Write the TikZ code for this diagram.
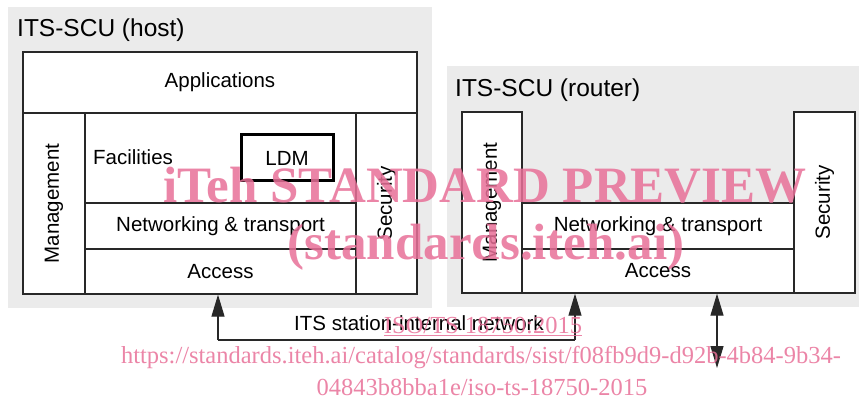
\documentclass[tikz,border=0pt]{standalone}
\usepackage{fontspec}
\setmainfont{Liberation Sans}
\newfontfamily\wmfont{Liberation Serif}
\usetikzlibrary{arrows.meta}
\definecolor{panelgray}{RGB}{235,235,235}
\definecolor{linegray}{RGB}{40,40,40}
\definecolor{wmpink}{RGB}{232,112,152}
\tikzset{
  panel/.style={fill=panelgray, draw=none},
  cell/.style={draw=linegray, line width=1.3pt, fill=white, inner sep=0pt, font=\fontsize{20.5}{22}\selectfont},
  vcell/.style={cell, rotate=90},
  title/.style={anchor=west, inner sep=0pt, font=\fontsize{24.5}{26}\selectfont},
  label/.style={inner sep=0pt, font=\fontsize{20.5}{22}\selectfont},
  link/.style={draw=linegray, line width=1.2pt},
  headed/.style={-{Triangle[width=13pt,length=22pt]}},
  wm/.style={text=wmpink, opacity=0.85, inner sep=0pt, anchor=base},
}
\begin{document}
\begin{tikzpicture}[x=1pt,y=-1pt]
\useasboundingbox (0,0) rectangle (859,403);

% background panels of the two stations
\fill[panel] (8,7) rectangle (432,308);
\fill[panel] (447,66) rectangle (859,307);

\node[title] (thost) at (17,30) {ITS-SCU (host)};
\node[title] (trouter) at (455,90) {ITS-SCU (router)};

% host protocol stack
\node[cell, minimum width=394pt, minimum height=61pt] (apps) at (220,82.5) {Applications};
\node[vcell, minimum width=181pt, minimum height=62pt] (hmgmt) at (54,203.5) {Management};
\node[vcell, minimum width=181pt, minimum height=61pt] (hsec) at (386.5,203.5) {Security};
\node[cell, minimum width=271pt, minimum height=90pt] (hfac) at (220.5,158) {};
\node[cell, minimum width=271pt, minimum height=46pt] (hnet) at (220.5,226) {Networking \& transport};
\node[cell, minimum width=271pt, minimum height=45pt] (hacc) at (220.5,271.5) {Access};
\node[label, anchor=west] (faclbl) at (93,157) {Facilities};
\node[cell, line width=3pt, draw=black, minimum width=92pt, minimum height=46pt] (ldm) at (287,158) {LDM};

% router protocol stack
\node[vcell, minimum width=181pt, minimum height=60pt] (rmgmt) at (492,202.5) {Management};
\node[vcell, minimum width=181pt, minimum height=61pt] (rsec) at (824.5,202.5) {Security};
\node[cell, minimum width=272pt, minimum height=46pt] (rnet) at (658,226) {Networking \& transport};
\node[cell, minimum width=272pt, minimum height=44pt] (racc) at (658,271) {Access};

% station-internal network and external link
\coordinate (nl) at (218,340);
\coordinate (nr) at (575,340);
\coordinate (ext) at (717,368);
\coordinate (hup) at (nl |- hacc.south);
\coordinate (rup) at (nr |- racc.south);
\coordinate (xup) at (ext |- racc.south);
\draw[link] (nl) -- (nr);
\draw[link, headed] (nl) -- (hup);
\draw[link, headed] (nr) -- (rup);
\draw[link, {Triangle[width=13pt,length=22pt]}-{Triangle[width=13pt,length=22pt]}] (xup) -- (ext);
\node[label] (netlbl) at (419,323) {ITS station-internal network};

% overlay text
\node[wm, font=\wmfont\bfseries\fontsize{51}{51}\selectfont] (wm1) at (485,203) {iTeh STANDARD PREVIEW};
\node[wm, font=\wmfont\bfseries\fontsize{51}{51}\selectfont] (wm2) at (486,260) {(standards.iteh.ai)};
\node[wm, font=\wmfont\fontsize{24.5}{25}\selectfont] (wm3) at (483,333) {\underline{ISO/TS 18750:2015}};
\node[wm, font=\wmfont\fontsize{24.5}{25}\selectfont] (wm4) at (481,363) {https://standards.iteh.ai/catalog/standards/sist/f08fb9d9-d92b-4b84-9b34-};
\node[wm, font=\wmfont\fontsize{24.5}{25}\selectfont] (wm5) at (482,395) {04843b8bba1e/iso-ts-18750-2015};
\end{tikzpicture}
\end{document}
